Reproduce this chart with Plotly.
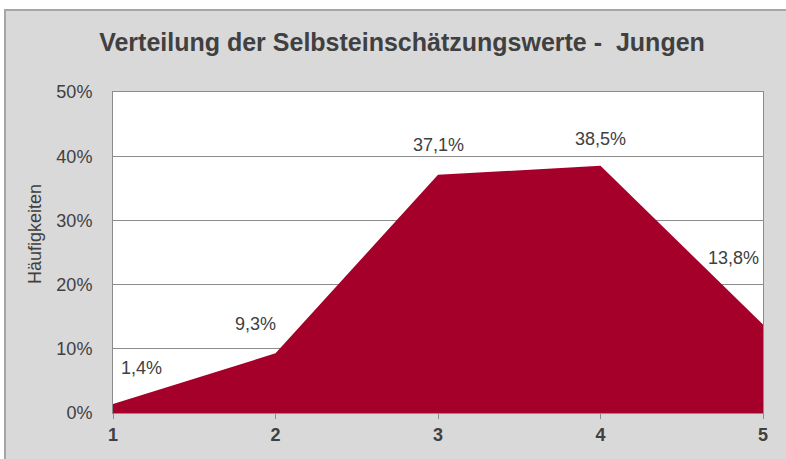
import plotly.graph_objects as go

categories = [1, 2, 3, 4, 5]
values = [1.4, 9.3, 37.1, 38.5, 13.8]
y_ticks = [0, 10, 20, 30, 40, 50]
y_tick_labels = ["0%", "10%", "20%", "30%", "40%", "50%"]
title_text = "Verteilung der Selbsteinschätzungswerte -  Jungen"
y_title = "Häufigkeiten"

label_xshift = [28, -20, 0, 0, -30]
label_yshift = [36, 29, 30, 27, 66]

FONT = "Liberation Sans, Arial, sans-serif"
TXT = "#404040"

fig = go.Figure()
fig.add_trace(go.Scatter(
    x=categories, y=values, mode="lines", fill="tozeroy",
    fillcolor="#A50029", line=dict(width=0, color="#A50029"),
    hoverinfo="skip", showlegend=False))

for c, v, xs, ys in zip(categories, values, label_xshift, label_yshift):
    fig.add_annotation(x=c, y=v, text=f"{v:.1f}".replace(".", ",") + "%",
                       showarrow=False, xshift=xs, yshift=ys,
                       font=dict(family=FONT, size=18, color=TXT))

# outer grey frame and white plot area
fig.add_shape(type="rect", xref="paper", yref="paper",
              x0=(5 - 113) / 650, x1=(800 - 113) / 650,
              y0=(413 - 480) / 321, y1=(413 - 10) / 321,
              fillcolor="#d9d9d9", line=dict(color="#a6a6a6", width=2), layer="below")
fig.add_shape(type="rect", xref="paper", yref="paper", x0=0, x1=1, y0=0, y1=1,
              fillcolor="white", line=dict(width=0), layer="below")

fig.add_annotation(xref="paper", yref="paper", x=(35 - 113) / 650, y=(413 - 234) / 321,
                   xanchor="center", yanchor="middle",
                   text=y_title, textangle=-90, showarrow=False,
                   font=dict(family=FONT, size=18, color=TXT))

fig.update_layout(
    width=786, height=459,
    margin=dict(l=113, r=23, t=92, b=46),
    paper_bgcolor="white", plot_bgcolor="white",
    title=dict(text=f"<b>{title_text}</b>", x=402 / 786, xanchor="center",
               y=1 - 42 / 459, yanchor="middle",
               font=dict(family=FONT, size=25, color=TXT)),
    font=dict(family=FONT, color=TXT),
)
fig.update_xaxes(range=[1, 5], tickvals=categories, ticktext=[f"<b>{c}</b>" for c in categories],
                 showgrid=False, showline=True, linecolor="#8c8c8c", linewidth=1, mirror=True,
                 ticks="outside", ticklen=5, tickcolor="#8c8c8c",
                 tickfont=dict(family=FONT, size=18, color=TXT), zeroline=False,
                 fixedrange=True)
fig.update_yaxes(range=[0, 50], tickvals=y_ticks, ticktext=y_tick_labels,
                 showgrid=True, gridcolor="#8c8c8c", gridwidth=1,
                 showline=True, linecolor="#8c8c8c", linewidth=1, mirror=True,
                 ticks="", ticklabelstandoff=16,
                 tickfont=dict(family=FONT, size=18, color=TXT), zeroline=False,
                 fixedrange=True)

fig.write_html("out.html", config={"displayModeBar": False},
               post_script="document.body.style.margin='0';document.body.style.overflow='hidden';")
